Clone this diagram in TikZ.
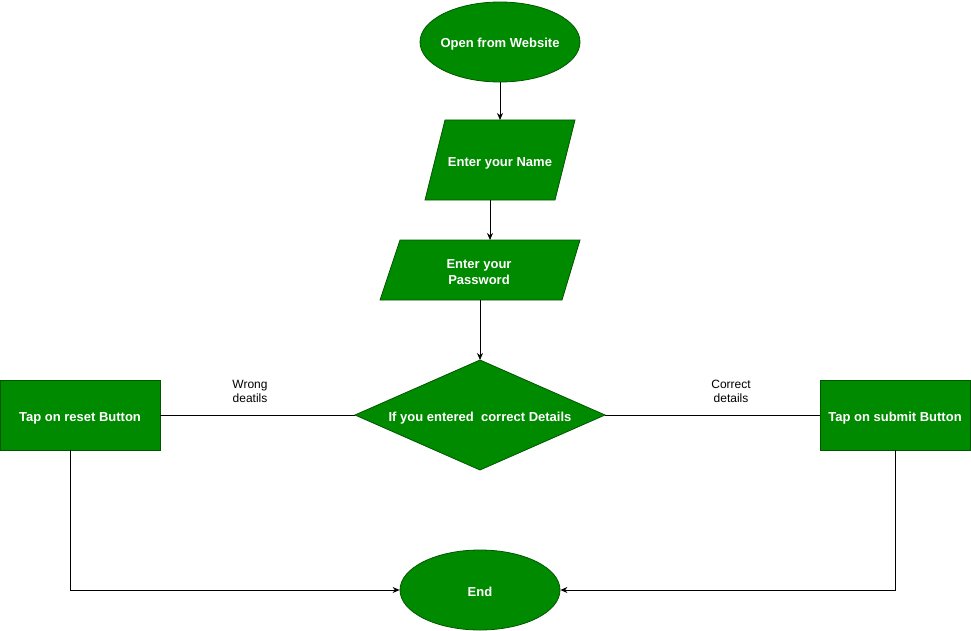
\documentclass[tikz,border=0pt]{standalone}
\usepackage{fontspec}
\setmainfont{Liberation Sans}
\usetikzlibrary{shapes.geometric,arrows.meta}
\definecolor{boxfill}{HTML}{008A00}
\definecolor{boxline}{HTML}{005700}

\begin{document}
\begin{tikzpicture}[x=1pt,y=-1pt,
  shapebox/.style={fill=boxfill,draw=boxline,line width=0.8pt},
  boldtext/.style={text=white,font=\fontsize{13}{16}\selectfont\bfseries},
  nodetext/.style={boldtext,align=center,inner sep=0pt},
  oval/.style={shapebox,ellipse,minimum width=160pt,minimum height=80pt,inner sep=0pt},
  process/.style={shapebox,rectangle,minimum height=70pt,inner sep=0pt},
  edgetext/.style={font=\fontsize{12}{14}\selectfont,align=center,inner sep=0pt},
  conn/.style={draw=black,line width=0.8pt},
  flow/.style={conn,-{Stealth[length=7pt,width=6pt]}}
]
\useasboundingbox (0,0) rectangle (971,631);

% start
\node[oval] (open) at (500,42) {};
\node[nodetext] (openText) at (500,44) {Open from Website};

% input: name
\filldraw[shapebox] (445,120) -- (575,120) -- (555,200) -- (425,200) -- cycle;
\node[nodetext] (name) at (500,163) {Enter your Name};
\coordinate (nameIn) at (500,120);
\coordinate (nameOut) at (490,200);

% input: password
\filldraw[shapebox] (400,240) -- (580,240) -- (562,300) -- (380,300) -- cycle;
\node[nodetext] (pass) at (479,272) {Enter your\\Password};
\coordinate (passIn) at (490,240);
\coordinate (passOut) at (480,300);

% decision
\filldraw[shapebox] (480,360) -- (605,415) -- (480,470) -- (355,415) -- cycle;
\node[nodetext] (check) at (480,418) {If you entered\ \ correct Details};
\coordinate (checkIn) at (480,360);
\coordinate (checkLeft) at (355,415);
\coordinate (checkRight) at (605,415);

% outcomes
\node[process,minimum width=160pt] (reset) at (80,415) {};
\node[nodetext] (resetText) at (80,418) {Tap on reset Button};
\node[process,minimum width=150pt] (submit) at (895,415) {};
\node[nodetext] (submitText) at (895,418) {Tap on submit Button};
\coordinate (resetOut) at (70,450);

% end
\node[oval] (end) at (480,590) {};
\node[nodetext] (endText) at (480,592) {End};

% connectors
\draw[flow] (open.south) -- (nameIn);
\draw[flow] (nameOut) -- (passIn);
\draw[flow] (passOut) -- (checkIn);
\draw[conn] (checkLeft) -- (reset.east);
\draw[conn] (checkRight) -- (submit.west);
\draw[flow] (resetOut) |- (end.west);
\draw[flow] (submit.south) |- (end.east);

% branch labels
\node[edgetext] (wrong) at (250,391) {Wrong\\deatils};
\node[edgetext] (correct) at (731,391) {Correct\\details};
\end{tikzpicture}
\end{document}
